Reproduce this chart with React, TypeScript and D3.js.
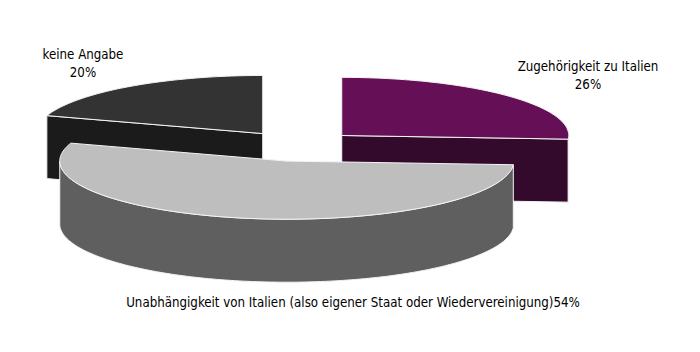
import React, { useEffect, useRef } from "react";
import * as d3 from "d3";

// slices in Excel order, clockwise from 12 o'clock
const categories = [
  "Zugehörigkeit zu Italien",
  "Unabhängigkeit von Italien (also eigener Staat oder Wiedervereinigung)",
  "keine Angabe",
];
const shares = [26, 54, 20];
const topColors = ["#650f56", "#bebebe", "#333333"];
const sideColors = ["#330a2c", "#5f5f5f", "#1b1b1b"];

const W = 700;
const H = 352;

export default function App() {
  const ref = useRef<SVGSVGElement>(null);

  useEffect(() => {
    const svg = d3.select(ref.current);
    svg.selectAll("*").remove();

    const cx = 298;
    const cy = 146;
    const rx = 227;
    const tilt = 0.256;
    const depth = 63;
    const explode = 60;

    const pie = d3.pie<number>().sort(null).value(d => d);
    const arcs = pie(shares).map((a, i) => ({ ...a, i }));

    // project a point of the pie plane to the screen
    const pt = (ang: number, r: number, ox: number, oy: number, z = 0): [number, number] =>
      [ox + r * Math.sin(ang), oy - r * Math.cos(ang) * tilt + z];

    const line = d3.line().curve(d3.curveLinear);

    const sampled = (a0: number, a1: number) => {
      const n = Math.max(2, Math.ceil((a1 - a0) / 0.02));
      return d3.range(n + 1).map(k => a0 + (a1 - a0) * k / n);
    };

    // back slices first
    const order = arcs.slice().sort((a, b) =>
      Math.cos((b.startAngle + b.endAngle) / 2) - Math.cos((a.startAngle + a.endAngle) / 2)
    );

    const g = svg.append("g")
      .attr("stroke", "#f4f4f4")
      .attr("stroke-width", 1)
      .attr("stroke-linejoin", "round");

    order.forEach(a => {
      const mid = (a.startAngle + a.endAngle) / 2;
      const ox = cx + explode * Math.sin(mid);
      const oy = cy - explode * Math.cos(mid) * tilt;
      const slice = g.append("g");

      // radial cut faces
      const face = (ang: number) => [
        pt(ang, 0, ox, oy), pt(ang, rx, ox, oy),
        pt(ang, rx, ox, oy, depth), pt(ang, 0, ox, oy, depth),
      ];
      if (Math.sin(a.startAngle) < -1e-6) {
        slice.append("path").attr("d", line(face(a.startAngle)) + "Z").attr("fill", sideColors[a.i]);
      }
      if (Math.sin(a.endAngle) > 1e-6) {
        slice.append("path").attr("d", line(face(a.endAngle)) + "Z").attr("fill", sideColors[a.i]);
      }

      // outer wall, only the front half is seen
      const w0 = Math.max(a.startAngle, Math.PI / 2);
      const w1 = Math.min(a.endAngle, Math.PI * 3 / 2);
      if (w1 > w0) {
        const angs = sampled(w0, w1);
        const pts = angs.map(t => pt(t, rx, ox, oy))
          .concat(angs.slice().reverse().map(t => pt(t, rx, ox, oy, depth)));
        slice.append("path").attr("d", line(pts) + "Z").attr("fill", sideColors[a.i]);
      }

      // top
      const topPts = [pt(0, 0, ox, oy)].concat(sampled(a.startAngle, a.endAngle).map(t => pt(t, rx, ox, oy)));
      slice.append("path").attr("d", line(topPts) + "Z").attr("fill", topColors[a.i]);
    });

    // data labels
    const labelPos: [number, number][] = [[588, 71], [353, 307], [83, 59]];
    const labels = svg.append("g")
      .attr("font-family", "'DejaVu Sans Condensed', 'DejaVu Sans', sans-serif")
      .attr("font-size", 13.2)
      .attr("fill", "#000")
      .attr("text-anchor", "middle");

    arcs.forEach(a => {
      const [x, y] = labelPos[a.i];
      const pct = `${shares[a.i]}%`;
      if (a.i === 1) {
        labels.append("text").attr("x", x).attr("y", y).text(categories[a.i] + pct);
      } else {
        labels.append("text").attr("x", x).attr("y", y).text(categories[a.i]);
        labels.append("text").attr("x", x).attr("y", y + 18).text(pct);
      }
    });
  }, []);

  return (
    <svg ref={ref} width={W} height={H}
      style={{ position: "absolute", left: 0, top: 0, background: "#fff" }} />
  );
}
